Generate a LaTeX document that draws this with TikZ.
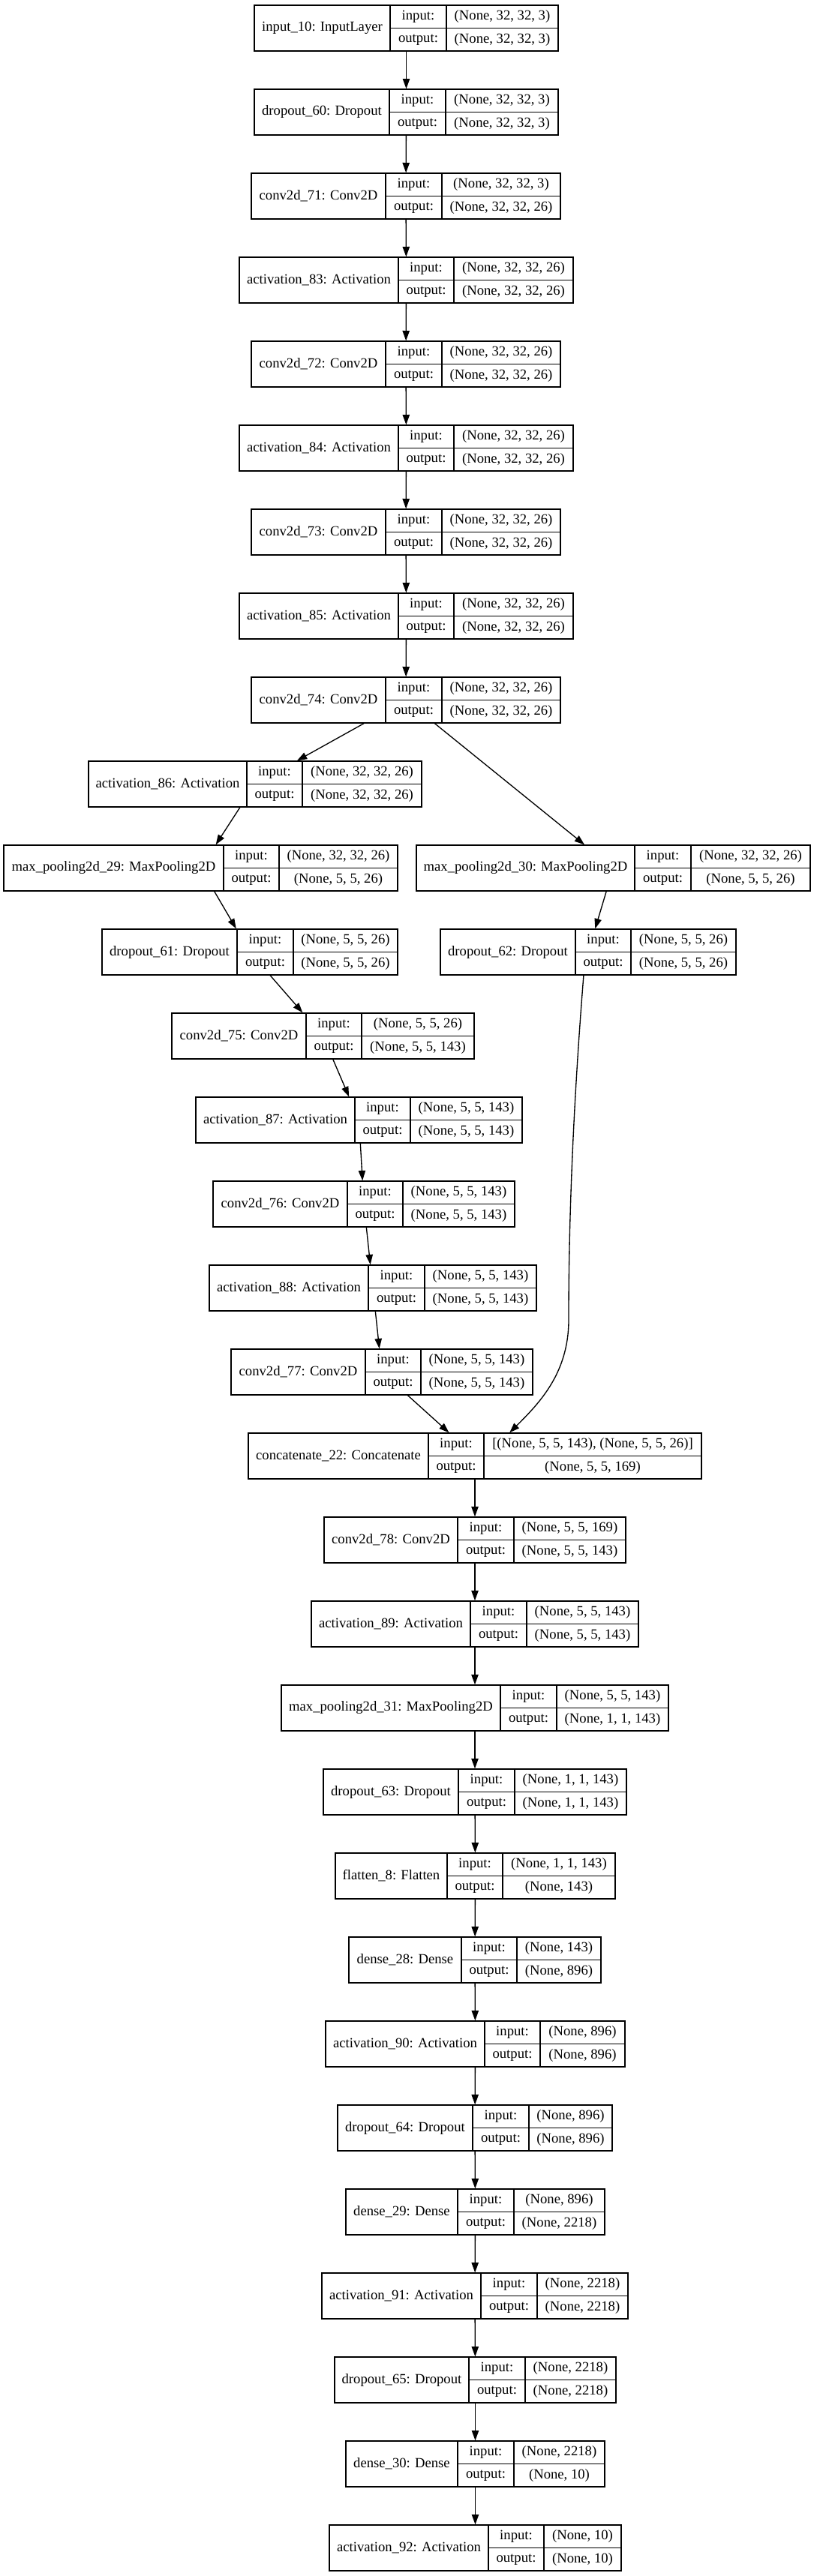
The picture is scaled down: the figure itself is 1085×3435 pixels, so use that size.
\documentclass[tikz,border=0pt]{standalone}
\usepackage{fontspec}
\setmainfont{Liberation Serif}
\usetikzlibrary{arrows.meta,fit}

\begin{document}
\begin{tikzpicture}[x=0.75pt,y=-0.75pt,
        caja/.style={draw,line width=1pt,inner sep=0pt},
        texto/.style={font=\fontsize{14}{16}\selectfont,inner sep=0pt},
        flecha/.style={line width=1pt,-{Triangle[length=10pt,width=7pt]}}]

    % marco
    \useasboundingbox (0,0) rectangle (1085,3435);

    % capas: nombre/izq/div1/div2/der/arriba/texto/entrada/salida
    \foreach \nm/\xl/\xa/\xb/\xr/\yt/\lab/\vin/\vout in {
        in10/339/520/595/744/7/{input\_10: InputLayer}/{(None, 32, 32, 3)}/{(None, 32, 32, 3)},
        do60/339/519/594/744/119/{dropout\_60: Dropout}/{(None, 32, 32, 3)}/{(None, 32, 32, 3)},
        cv71/335/514/589/747/231/{conv2d\_71: Conv2D}/{(None, 32, 32, 3)}/{(None, 32, 32, 26)},
        ac83/319/531/605/764/343/{activation\_83: Activation}/{(None, 32, 32, 26)}/{(None, 32, 32, 26)},
        cv72/335/514/589/747/455/{conv2d\_72: Conv2D}/{(None, 32, 32, 26)}/{(None, 32, 32, 26)},
        ac84/319/531/605/764/567/{activation\_84: Activation}/{(None, 32, 32, 26)}/{(None, 32, 32, 26)},
        cv73/335/514/589/747/679/{conv2d\_73: Conv2D}/{(None, 32, 32, 26)}/{(None, 32, 32, 26)},
        ac85/319/531/605/764/791/{activation\_85: Activation}/{(None, 32, 32, 26)}/{(None, 32, 32, 26)},
        cv74/335/514/589/747/903/{conv2d\_74: Conv2D}/{(None, 32, 32, 26)}/{(None, 32, 32, 26)},
        ac86/118/329/403/562/1015/{activation\_86: Activation}/{(None, 32, 32, 26)}/{(None, 32, 32, 26)},
        mp29/5/298/372/530/1127/{max\_pooling2d\_29: MaxPooling2D}/{(None, 32, 32, 26)}/{(None, 5, 5, 26)},
        mp30/555/846/921/1080/1127/{max\_pooling2d\_30: MaxPooling2D}/{(None, 32, 32, 26)}/{(None, 5, 5, 26)},
        do61/136/316/391/530/1239/{dropout\_61: Dropout}/{(None, 5, 5, 26)}/{(None, 5, 5, 26)},
        do62/587/767/841/981/1239/{dropout\_62: Dropout}/{(None, 5, 5, 26)}/{(None, 5, 5, 26)},
        cv75/229/408/482/632/1351/{conv2d\_75: Conv2D}/{(None, 5, 5, 26)}/{(None, 5, 5, 143)},
        ac87/261/473/547/696/1463/{activation\_87: Activation}/{(None, 5, 5, 143)}/{(None, 5, 5, 143)},
        cv76/284/463/537/686/1575/{conv2d\_76: Conv2D}/{(None, 5, 5, 143)}/{(None, 5, 5, 143)},
        ac88/279/491/566/715/1687/{activation\_88: Activation}/{(None, 5, 5, 143)}/{(None, 5, 5, 143)},
        cv77/308/487/561/710/1799/{conv2d\_77: Conv2D}/{(None, 5, 5, 143)}/{(None, 5, 5, 143)},
        cc22/331/571/645/935/1911/{concatenate\_22: Concatenate}/{[(None, 5, 5, 143), (None, 5, 5, 26)]}/{(None, 5, 5, 169)},
        cv78/432/610/685/834/2023/{conv2d\_78: Conv2D}/{(None, 5, 5, 169)}/{(None, 5, 5, 143)},
        ac89/415/627/702/851/2135/{activation\_89: Activation}/{(None, 5, 5, 143)}/{(None, 5, 5, 143)},
        mp31/375/667/742/891/2247/{max\_pooling2d\_31: MaxPooling2D}/{(None, 5, 5, 143)}/{(None, 1, 1, 143)},
        do63/431/611/686/835/2359/{dropout\_63: Dropout}/{(None, 1, 1, 143)}/{(None, 1, 1, 143)},
        fl8/447/596/670/820/2471/{flatten\_8: Flatten}/{(None, 1, 1, 143)}/{(None, 143)},
        de28/465/615/689/801/2583/{dense\_28: Dense}/{(None, 143)}/{(None, 896)},
        ac90/434/646/720/833/2695/{activation\_90: Activation}/{(None, 896)}/{(None, 896)},
        do64/450/630/705/816/2807/{dropout\_64: Dropout}/{(None, 896)}/{(None, 896)},
        de29/461/610/685/806/2919/{dense\_29: Dense}/{(None, 896)}/{(None, 2218)},
        ac91/429/641/716/837/3031/{activation\_91: Activation}/{(None, 2218)}/{(None, 2218)},
        do65/446/625/700/821/3143/{dropout\_65: Dropout}/{(None, 2218)}/{(None, 2218)},
        de30/461/610/685/806/3255/{dense\_30: Dense}/{(None, 2218)}/{(None, 10)},
        ac92/439/651/725/828/3367/{activation\_92: Activation}/{(None, 10)}/{(None, 10)}
    }{
        \node[caja,fit={(\xl,\yt) (\xr,\yt+61)}] (\nm) {};
        \draw[line width=1pt] (\xa,\yt) -- (\xa,\yt+61) (\xb,\yt) -- (\xb,\yt+61)
            (\xa,\yt+30.5) -- (\xr,\yt+30.5);
        \node[texto] at ({(\xl+\xa)/2},\yt+30.5) {\lab};
        \node[texto] at ({(\xa+\xb)/2},\yt+15.25) {input:};
        \node[texto] at ({(\xa+\xb)/2},\yt+45.75) {output:};
        \node[texto] at ({(\xb+\xr)/2},\yt+15.25) {\vin};
        \node[texto] at ({(\xb+\xr)/2},\yt+45.75) {\vout};
    }

    % flechas
    \foreach \u/\v in {in10/do60, do60/cv71, cv71/ac83, ac83/cv72, cv72/ac84, ac84/cv73,
        cv73/ac85, ac85/cv74, cv74/ac86, cv74/mp30, ac86/mp29, mp29/do61, mp30/do62,
        do61/cv75, cv75/ac87, ac87/cv76, cv76/ac88, ac88/cv77, cv77/cc22, cc22/cv78,
        cv78/ac89, ac89/mp31, mp31/do63, do63/fl8, fl8/de28, de28/ac90, ac90/do64,
        do64/de29, de29/ac91, ac91/do65, do65/de30, de30/ac92}
    \draw[flecha] (\u) -- (\v);

    % rama derecha hasta concatenate
    \draw[flecha] (do62.259) .. controls (762,1500) and (758,1650) .. (758,1760)
        .. controls (758,1830) and (720,1870) .. (cc22.34);
\end{tikzpicture}
\end{document}
